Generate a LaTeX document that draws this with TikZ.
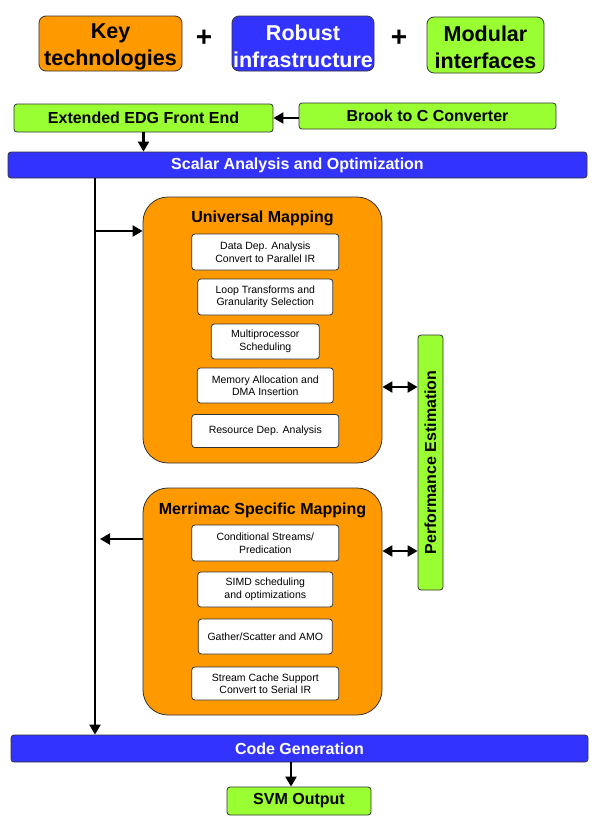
\documentclass[tikz,border=0pt]{standalone}
\usepackage{fontspec}
\setmainfont{Liberation Sans}
\usetikzlibrary{arrows.meta}

\definecolor{cgorange}{HTML}{FF9900}
\definecolor{cgblue}{HTML}{3333FF}
\definecolor{cggreen}{HTML}{99FF33}

\newcommand{\topstrut}{\rule{0pt}{21pt}}

\begin{document}
\begin{tikzpicture}[x=1pt, y=-1pt,
        every node/.style={inner sep=0pt, align=center},
        box/.style={draw=black!80, line width=0.8pt, rounded corners=3pt},
        keybox/.style={box, rounded corners=7pt, font=\bfseries\fontsize{21.5}{27}\selectfont},
        bar/.style={box, fill=cgblue, text=white, font=\bfseries\fontsize{16}{19}\selectfont},
        gbox/.style={box, fill=cggreen, font=\bfseries\fontsize{16}{19}\selectfont},
        stage/.style={draw=black!80, line width=0.8pt, fill=cgorange, rounded corners=25pt},
        pass/.style={box, fill=white, font=\fontsize{10.5}{12.5}\selectfont},
        arr/.style={-{Triangle[length=10pt,width=11pt]}, line width=2.2pt},
        biarr/.style={{Triangle[length=10pt,width=11pt]}-{Triangle[length=10pt,width=11pt]}, line width=2.2pt}
    ]

    \useasboundingbox (0,0) rectangle (600,822);

    % top line
    \node[keybox, fill=cgorange, minimum width=143pt, minimum height=55pt] (key) at (110.5,43.5) {\topstrut Key\\technologies};
    \node[keybox, fill=cgblue, text=white, minimum width=142pt, minimum height=55pt] (robust) at (303,43.5) {\topstrut Robust\\infrastructure};
    \node[keybox, fill=cggreen, minimum width=117pt, minimum height=56pt] (modular) at (485.5,45) {\topstrut Modular\\interfaces};
    \foreach \x [count=\k] in {204,399}
        \node[font=\bfseries\fontsize{28}{28}\selectfont] (plus\k) at (\x,38) {+};

    % front end
    \node[gbox, minimum width=259pt, minimum height=28pt] (edg) at (143.5,118) {Extended EDG Front End};
    \node[gbox, minimum width=257pt, minimum height=26pt] (brook) at (427.5,116) {Brook to C Converter};
    \node[bar, minimum width=579pt, minimum height=26pt] (scalar) at (297.5,165) {Scalar Analysis and Optimization};

    % mapping stages
    \node[stage, minimum width=239pt, minimum height=266pt] (univ) at (262.5,330) {};
    \node[font=\bfseries\fontsize{16}{19}\selectfont] (univt) at (262.5,218) {Universal Mapping};
    \foreach \n/\y/\w/\h/\t in {
            dda/252/147/36/{Data Dep. Analysis\\Convert to Parallel IR},
            loop/297/135/36/{Loop Transforms and\\Granularity Selection},
            msched/341.5/108/35/{Multiprocessor\\Scheduling},
            mem/385.5/136/35/{Memory Allocation and\\DMA Insertion},
            rda/431/147/33/{Resource Dep. Analysis}}
        \node[pass, minimum width=\w pt, minimum height=\h pt] (\n) at (265.3,\y) {\t};

    \node[stage, minimum width=239pt, minimum height=227pt] (merr) at (262.5,601.5) {};
    \node[font=\bfseries\fontsize{16}{19}\selectfont] (merrt) at (262.5,510) {Merrimac Specific Mapping};
    \foreach \n/\y/\w/\h/\t in {
            cond/543/147/36/{Conditional Streams/\\Predication},
            simd/589.5/135/35/{SIMD scheduling\\and optimizations},
            gath/636.5/134/35/{Gather/Scatter and AMO},
            scache/683.5/147/33/{Stream Cache Support\\Convert to Serial IR}}
        \node[pass, minimum width=\w pt, minimum height=\h pt] (\n) at (265.3,\y) {\t};

    \node[gbox, minimum width=25pt, minimum height=255pt] (perf) at (430.5,462.5) {};
    \node[rotate=90, font=\bfseries\fontsize{16}{19}\selectfont] (perft) at (perf.center) {Performance Estimation};

    % back end
    \node[bar, minimum width=577pt, minimum height=27pt] (codegen) at (299.5,748.5) {Code Generation};
    \node[gbox, minimum width=144pt, minimum height=28pt] (svm) at (299,801) {SVM Output};

    % connectors
    \coordinate (spine) at (95,0);
    \coordinate (uin) at (0,231);
    \coordinate (mout) at (100,539);
    \coordinate (pu) at (0,387);
    \coordinate (pm) at (0,551);
    \coordinate (cg) at (291,0);

    \draw[arr] (brook.west |- edg.east) -- (edg.east);
    \draw[arr] (edg.south) -- (edg.south |- scalar.north);
    \draw[arr] (scalar.south -| spine) -- (codegen.north -| spine);
    \draw[arr] (spine |- uin) -- (univ.west |- uin);
    \draw[arr] (merr.west |- mout) -- (mout);
    \draw[biarr] (univ.east |- pu) -- (perf.west |- pu);
    \draw[biarr] (merr.east |- pm) -- (perf.west |- pm);
    \draw[arr] (codegen.south -| cg) -- (svm.north -| cg);

\end{tikzpicture}
\end{document}
